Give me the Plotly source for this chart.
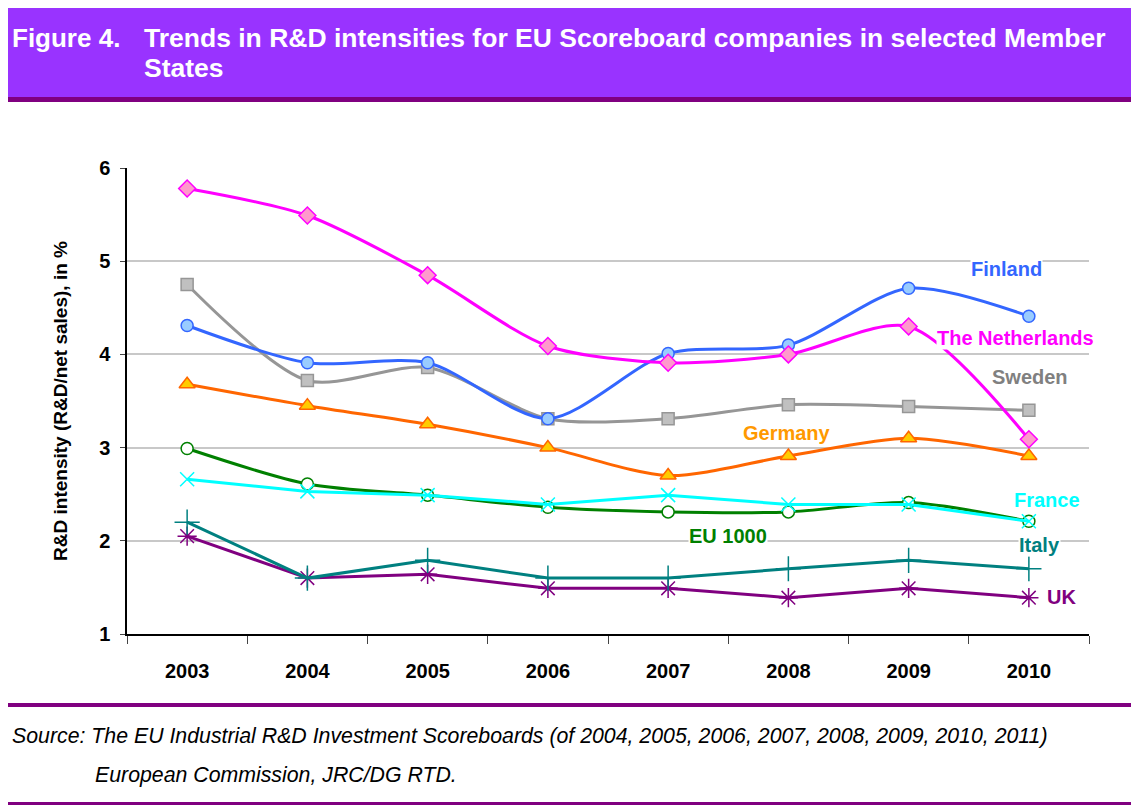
import plotly.graph_objects as go

years = ["2003", "2004", "2005", "2006", "2007", "2008", "2009", "2010"]

netherlands = [5.78, 5.49, 4.85, 4.09, 3.91, 4.00, 4.30, 3.09]
finland = [4.31, 3.91, 3.91, 3.31, 4.01, 4.10, 4.71, 4.41]
sweden = [4.75, 3.72, 3.86, 3.31, 3.31, 3.46, 3.44, 3.40]
germany = [3.68, 3.45, 3.25, 3.00, 2.70, 2.91, 3.10, 2.91]
eu1000 = [2.99, 2.61, 2.49, 2.36, 2.31, 2.31, 2.41, 2.21]
france = [2.66, 2.53, 2.49, 2.39, 2.49, 2.39, 2.39, 2.21]
italy = [2.20, 1.60, 1.79, 1.60, 1.60, 1.70, 1.79, 1.70]
uk = [2.05, 1.60, 1.64, 1.49, 1.49, 1.39, 1.49, 1.39]

FONT = "Liberation Sans, Arial, sans-serif"
# the page body adds an 8px margin, so the figure is a bit smaller and shifted
OFF = 8
W, H = 1139 - OFF, 805 - OFF
L, R, T, B = 127 - OFF, 50, 168 - OFF, 171
PW, PH = W - L - R, H - T - B


def px(x):
    return (x - OFF - L) / PW


def py(y):
    return (H - B - (y - OFF)) / PH


fig = go.Figure()


def add_line(name, vals, color, symbol, fill, size, shape="spline", lw=3, mlw=1.5):
    fig.add_trace(go.Scatter(
        x=years, y=vals, name=name, mode="lines+markers",
        line=dict(color=color, width=lw, shape=shape, smoothing=0.8),
        marker=dict(symbol=symbol, size=size, color=fill,
                    line=dict(color=color, width=mlw)),
    ))


add_line("UK", uk, "#800080", "asterisk-open", "#800080", 16, shape="linear")
add_line("Italy", italy, "#008080", "cross-thin-open", "#008080", 18, shape="linear")
add_line("EU 1000", eu1000, "#008000", "circle", "white", 12)
add_line("France", france, "#00FFFF", "x-thin-open", "#00FFFF", 14, shape="linear")
add_line("Germany", germany, "#FF6600", "triangle-up", "#FFCC00", 14)
add_line("Sweden", sweden, "#969696", "square", "#C0C0C0", 12)
add_line("Finland", finland, "#3366FF", "circle", "#99CCFF", 12)
add_line("The Netherlands", netherlands, "#FF00FF", "diamond", "#FF99CC", 13)

labels = [
    ("Finland", 1006, 269, "#3366FF"),
    ("The Netherlands", 1015, 338, "#FF00FF"),
    ("Sweden", 1030, 377, "#808080"),
    ("Germany", 787, 433, "#FF9900"),
    ("France", 1047, 500, "#00FFFF"),
    ("EU 1000", 728, 536, "#008000"),
    ("Italy", 1039, 545, "#008080"),
    ("UK", 1061, 597, "#800080"),
]
for text, x, y, c in labels:
    fig.add_annotation(x=px(x), y=py(y), xref="paper", yref="paper", text="<b>%s</b>" % text,
                       xanchor="center", yanchor="middle",
                       showarrow=False, bgcolor="white", font=dict(family=FONT, size=20, color=c),
                       borderpad=0)

# header band
fig.add_shape(type="rect", xref="paper", yref="paper", x0=px(0), x1=px(1139), y0=py(102), y1=py(0),
              fillcolor="#800080", line_width=0, layer="below")
fig.add_shape(type="rect", xref="paper", yref="paper", x0=px(0), x1=px(1139), y0=py(97), y1=py(7),
              fillcolor="#9933FF", line_width=0, layer="below")
fig.add_annotation(x=px(10), y=py(38), xref="paper", yref="paper", xanchor="left", yanchor="middle",
                   text="<b>Figure 4.</b>", showarrow=False, font=dict(family=FONT, size=26, color="white"))
fig.add_annotation(x=px(142), y=py(38), xref="paper", yref="paper", xanchor="left", yanchor="middle",
                   text="<b>Trends in R&D intensities for EU Scoreboard companies in selected Member</b>",
                   showarrow=False, font=dict(family=FONT, size=26.5, color="white"))
fig.add_annotation(x=px(142), y=py(68), xref="paper", yref="paper", xanchor="left", yanchor="middle",
                   text="<b>States</b>", showarrow=False, font=dict(family=FONT, size=26.5, color="white"))

# footer
fig.add_shape(type="rect", xref="paper", yref="paper", x0=px(0), x1=px(1139), y0=py(707), y1=py(703),
              fillcolor="#800080", line_width=0)
fig.add_shape(type="rect", xref="paper", yref="paper", x0=px(0), x1=px(1139), y0=py(805), y1=py(802),
              fillcolor="#800080", line_width=0)
fig.add_annotation(x=px(10), y=py(736), xref="paper", yref="paper", xanchor="left", yanchor="middle",
                   text="<i>Source: The EU Industrial R&D Investment Scoreboards (of 2004, 2005, 2006, 2007, 2008, 2009, 2010, 2011)</i>",
                   showarrow=False, font=dict(family=FONT, size=21.3, color="black"))
fig.add_annotation(x=px(93), y=py(775), xref="paper", yref="paper", xanchor="left", yanchor="middle",
                   text="<i>European Commission, JRC/DG RTD.</i>",
                   showarrow=False, font=dict(family=FONT, size=21.3, color="black"))

fig.update_layout(
    width=W, height=H,
    margin=dict(l=L, r=R, t=T, b=B),
    paper_bgcolor="white", plot_bgcolor="white",
    showlegend=False,
    font=dict(family=FONT, size=20, color="black"),
)
fig.update_xaxes(
    type="category", range=[-0.5, 7.5], tickson="boundaries", ticks="outside", ticklen=8,
    showline=True, linecolor="black", linewidth=1.5, showgrid=False,
    tickfont=dict(family=FONT, size=20, color="black"), ticklabelstandoff=18,
    tickprefix="<b>", ticksuffix="</b>",
)
fig.update_yaxes(
    range=[1, 6], dtick=1, ticks="outside", ticklen=5, showline=True, linecolor="black", linewidth=1.5,
    showgrid=True, gridcolor="#C8C8C8", gridwidth=1.5, zeroline=False,
    tickfont=dict(family=FONT, size=20, color="black"), tickprefix="<b>", ticksuffix="</b>",
    ticklabelstandoff=6,
    title=dict(text="<b>R&D intensity (R&D/net sales), in %</b>", font=dict(family=FONT, size=19),
               standoff=26),
)

fig.write_html("out.html")
